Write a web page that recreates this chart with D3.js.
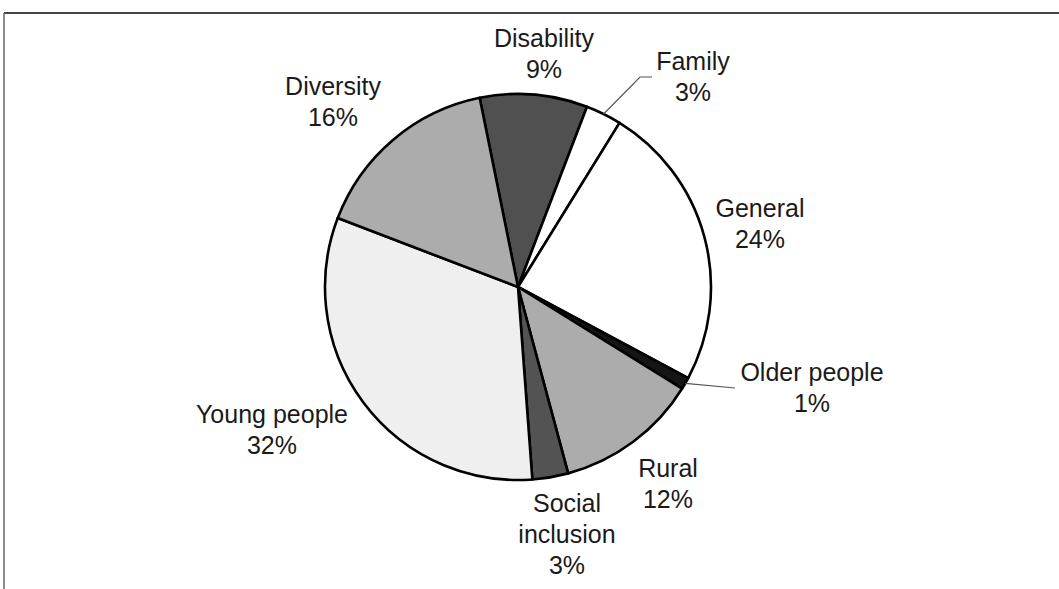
<!DOCTYPE html>
<html>
<head>
<meta charset="utf-8">
<script src="https://cdn.jsdelivr.net/npm/d3@7"></script>
<style>
  html, body { margin: 0; padding: 0; background: #fff; }
  svg { display: block; }
  text { font-family: "Liberation Sans", Arial, sans-serif; fill: #1a1a1a; }
</style>
</head>
<body>
<svg id="chart" width="1059" height="589"></svg>
<script>
// Share of projects by target group
const categories = ["Disability", "Family", "General", "Older people", "Rural", "Social inclusion", "Young people", "Diversity"];
const shares = [9, 3, 24, 1, 12, 3, 32, 16];
const fills = ["#505050", "#ffffff", "#ffffff", "#151515", "#acacac", "#535353", "#efefef", "#acacac"];

// Label text lines, anchor (centre x, first baseline y) and optional leader line
const labelLines = {
  "Disability": ["Disability"],
  "Family": ["Family"],
  "General": ["General"],
  "Older people": ["Older people"],
  "Rural": ["Rural"],
  "Social inclusion": ["Social", "inclusion"],
  "Young people": ["Young people"],
  "Diversity": ["Diversity"]
};
const labelAnchor = {
  "Disability": [544, 47],
  "Family": [693, 70],
  "General": [760, 217],
  "Older people": [812, 381],
  "Rural": [668, 477],
  "Social inclusion": [567, 512],
  "Young people": [272, 423],
  "Diversity": [333, 95]
};
const leaderEnds = {
  "Family": [[640, 77], [652, 77]],
  "Older people": [[735, 388]]
};

const width = 1059, height = 589;
const cx = 518, cy = 287, radius = 193;
const lineGap = 31;
const start = -0.2;

const svg = d3.select("#chart");

// chart frame (top and left edges)
svg.append("line").attr("x1", 4).attr("x2", width).attr("y1", 13).attr("y2", 13)
  .attr("stroke", "#444").attr("stroke-width", 2);
svg.append("line").attr("x1", 4).attr("x2", 4).attr("y1", 13).attr("y2", height)
  .attr("stroke", "#666").attr("stroke-width", 1.5);

const data = categories.map((c, i) => ({ name: c, value: shares[i], fill: fills[i] }));

const pie = d3.pie().sort(null).value(d => d.value)
  .startAngle(start).endAngle(start + 2 * Math.PI);
const arcs = pie(data);
const arc = d3.arc().innerRadius(0).outerRadius(radius);

const g = svg.append("g").attr("transform", `translate(${cx},${cy})`);

g.selectAll("path.slice").data(arcs).join("path")
  .attr("class", "slice")
  .attr("d", arc)
  .attr("fill", d => d.data.fill)
  .attr("stroke", "#000")
  .attr("stroke-width", 2.6)
  .attr("stroke-linejoin", "round");

// leader lines from the slice edge to the label
arcs.forEach(a => {
  const ends = leaderEnds[a.data.name];
  if (!ends) return;
  const mid = (a.startAngle + a.endAngle) / 2;
  const p0 = [cx + radius * Math.sin(mid), cy - radius * Math.cos(mid)];
  svg.append("polyline")
    .attr("points", [p0].concat(ends).map(p => p.join(",")).join(" "))
    .attr("fill", "none")
    .attr("stroke", "#555")
    .attr("stroke-width", 1.2);
});

// data labels: name and percentage
arcs.forEach(a => {
  const name = a.data.name;
  const [lx, ly] = labelAnchor[name];
  const lines = labelLines[name].concat([a.data.value + "%"]);
  const t = svg.append("text")
    .attr("text-anchor", "middle")
    .attr("font-size", 25);
  lines.forEach((s, i) => {
    t.append("tspan").attr("x", lx).attr("y", ly + i * lineGap).text(s);
  });
});
</script>
</body>
</html>
